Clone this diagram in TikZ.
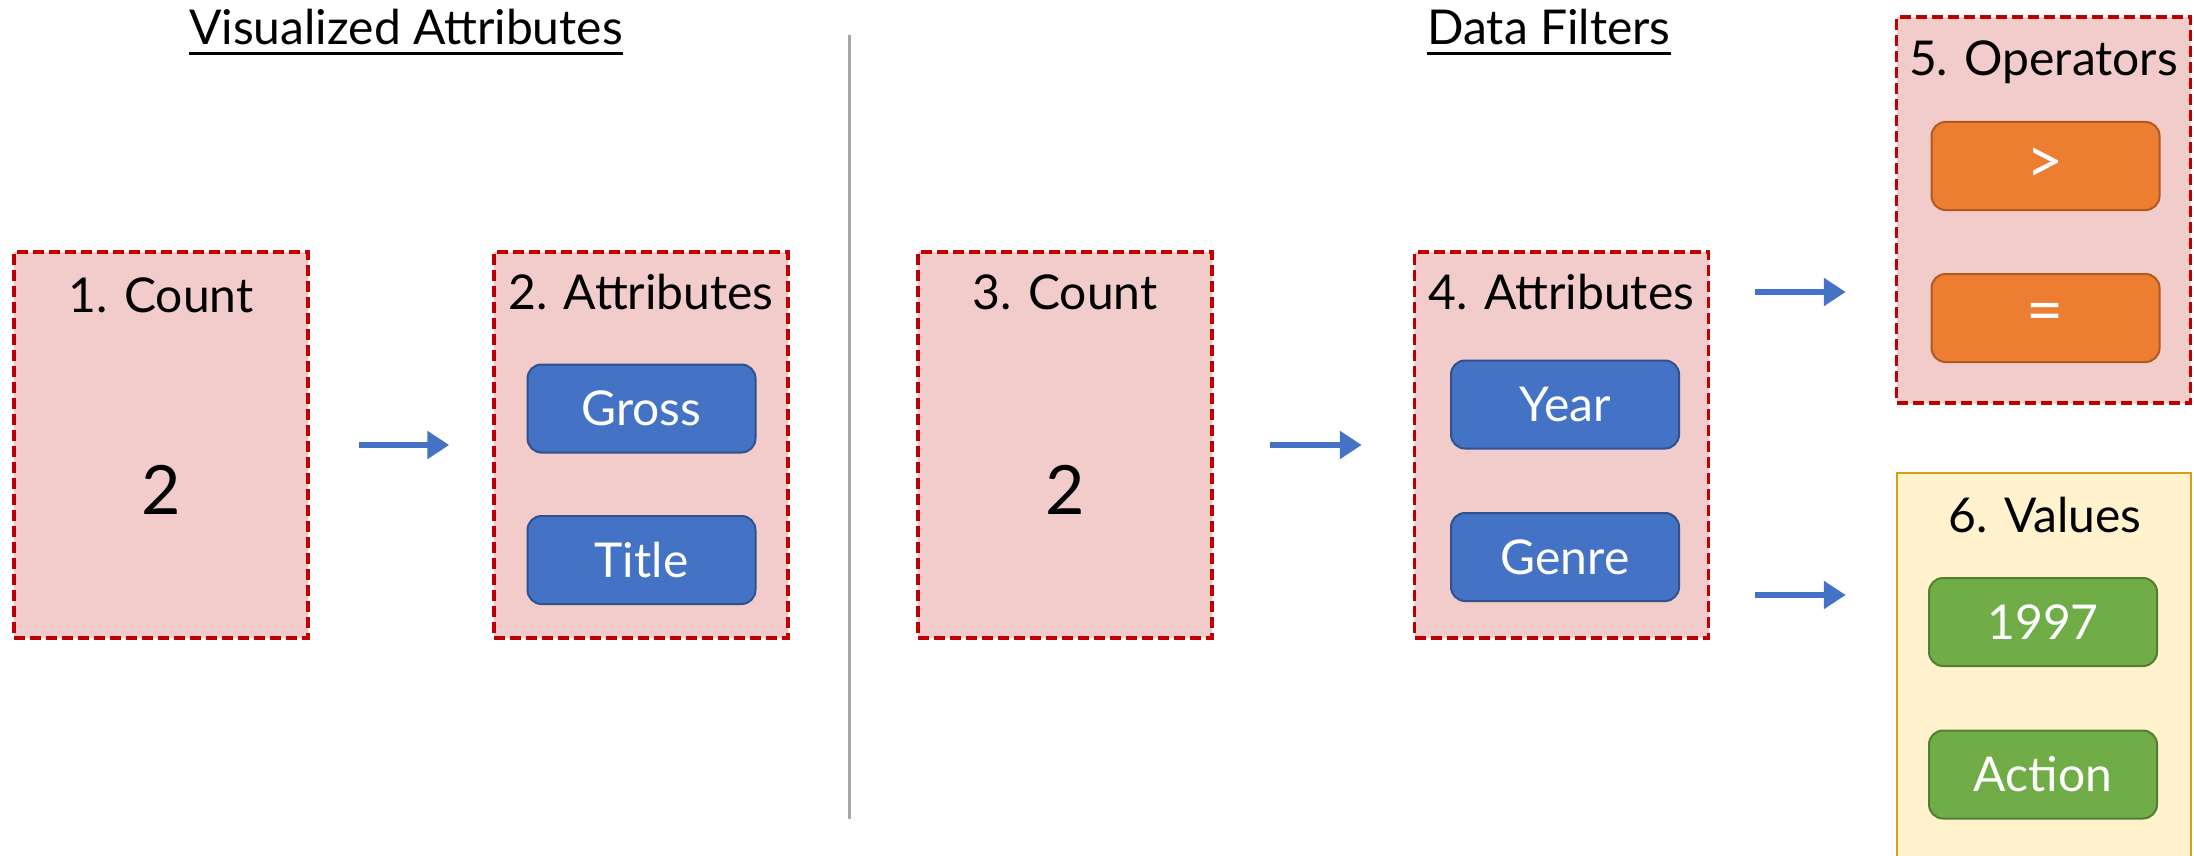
\documentclass[tikz,border=0pt]{standalone}
\usepackage{fontspec}
\setmainfont{Lato}
\usetikzlibrary{arrows.meta}

\definecolor{panelpink}{HTML}{F2CBCB}
\definecolor{panelred}{HTML}{C00000}
\definecolor{valfill}{HTML}{FFF2CC}
\definecolor{valline}{HTML}{D4A017}
\definecolor{btnblue}{HTML}{4472C4}
\definecolor{btnblueline}{HTML}{2F528F}
\definecolor{btnorange}{HTML}{ED7D31}
\definecolor{btnorangeline}{HTML}{AE5A21}
\definecolor{btngreen}{HTML}{70AD47}
\definecolor{btngreenline}{HTML}{507E32}
\definecolor{divider}{HTML}{A6A6A6}

\begin{document}
\begin{tikzpicture}[x=1pt,y=-1pt,
  panel/.style={draw=panelred, fill=panelpink, line width=3.5pt,
    dash pattern=on 11pt off 5pt, minimum width=294pt, minimum height=386pt,
    inner sep=0pt},
  valpanel/.style={draw=valline, fill=valfill, line width=2.5pt,
    minimum width=294pt, minimum height=426pt, inner sep=0pt},
  paneltitle/.style={anchor=base, inner sep=0pt, font=\fontsize{48}{52}\selectfont},
  bignum/.style={anchor=base, inner sep=0pt, font=\fontsize{68}{72}\selectfont},
  btn/.style={rounded corners=14pt, minimum width=228pt, minimum height=88pt,
    line width=2pt, text=white, inner sep=0pt, font=\fontsize{48}{52}\selectfont},
  bluebtn/.style={btn, fill=btnblue, draw=btnblueline},
  orangebtn/.style={btn, fill=btnorange, draw=btnorangeline,
    font=\fontsize{64}{68}\selectfont},
  greenbtn/.style={btn, fill=btngreen, draw=btngreenline},
  heading/.style={anchor=base, inner sep=0pt, font=\fontsize{48}{52}\selectfont},
  flow/.style={draw=btnblue, line width=6pt, -{Triangle[length=22pt,width=27pt]}},
]
\useasboundingbox (0,0) rectangle (2194,856);
\clip (0,0) rectangle (2194,856);

% section headings
\node[heading] (hvis) at (406,45) {Visualized Attributes};
\draw[line width=3pt] ([yshift=-9pt]hvis.base west) -- ([yshift=-9pt]hvis.base east);
\node[heading] (hfil) at (1549,45) {Data Filters};
\draw[line width=3pt] ([yshift=-9pt]hfil.base west) -- ([yshift=-9pt]hfil.base east);

% divider between the two sections
\draw[divider, line width=3pt] (849,35) -- (849,819);

% panels
\node[panel] (p1) at (161,445) {};
\node[panel] (p2) at (641,445) {};
\node[panel] (p3) at (1065,445) {};
\node[panel] (p4) at (1561.5,445) {};
\node[panel] (p5) at (2043.5,210) {};
\node[valpanel] (p6) at (2044,686) {};

% panel titles
\node[paneltitle] (t1) at (161,312) {1. Count};
\node[paneltitle] (t2) at (641,309) {2. Attributes};
\node[paneltitle] (t3) at (1065,309) {3. Count};
\node[paneltitle] (t4) at (1561.5,309) {4. Attributes};
\node[paneltitle] (t5) at (2043.5,76) {5. Operators};
\node[paneltitle] (t6) at (2045,532) {6. Values};

% counts
\node[bignum] (n1) at (161,514) {2};
\node[bignum] (n3) at (1065,514) {2};

% attribute buttons
\node[bluebtn] (gross) at (641.5,408.5) {Gross};
\node[bluebtn] (title) at (641.5,560) {Title};
\node[bluebtn] (year) at (1565,404.5) {Year};
\node[bluebtn] (genre) at (1565,557) {Genre};

% operator buttons
\node[orangebtn] (gt) at (2045.5,166) {>};
\node[orangebtn] (eq) at (2045.5,318) {=};

% value buttons
\node[greenbtn] (v1997) at (2043,622) {1997};
\node[greenbtn] (action) at (2043,774.5) {Action};

% flow arrows
\draw[flow, shorten <=49pt, shorten >=43pt] (p1.east) -- (p2.west);
\draw[flow, shorten <=56pt, shorten >=51pt] (p3.east) -- (p4.west);
\draw[flow, shorten <=45pt, shorten >=49pt] ([yshift=153pt]p4.east) -- ([yshift=-82pt]p5.west);
\draw[flow, shorten <=45pt, shorten >=50pt] ([yshift=-150pt]p4.east) -- ([yshift=91pt]p6.west);
\end{tikzpicture}
\end{document}
